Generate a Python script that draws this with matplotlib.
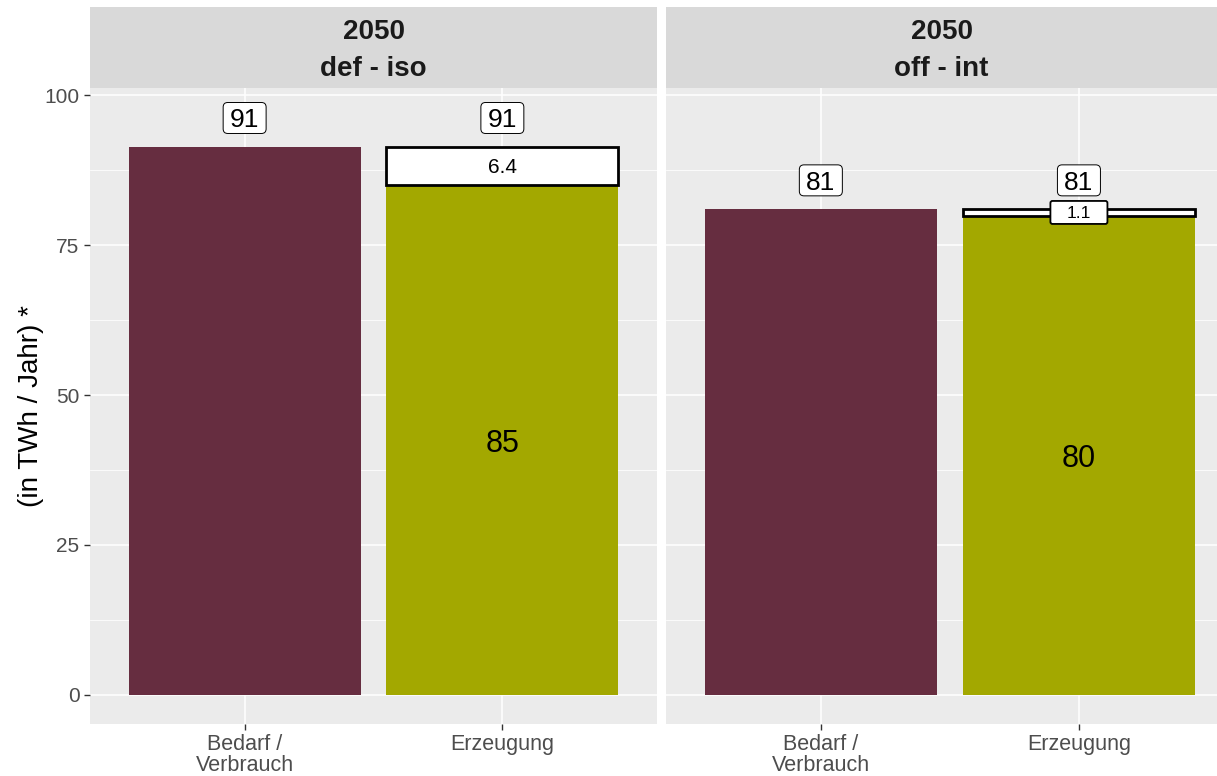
import matplotlib.pyplot as plt
from matplotlib.patches import FancyBboxPatch
from matplotlib.ticker import MultipleLocator

plt.rcParams['font.family'] = ['Liberation Sans', 'DejaVu Sans']

# data per panel
panels = ["2050\ndef - iso", "2050\noff - int"]
categories = ["Bedarf /\nVerbrauch", "Erzeugung"]
demand = [91.4, 81.0]
generation = [85.0, 79.9]
import_gap = [6.4, 1.1]
totals = [91, 81]

col_demand = "#662D40"
col_gen = "#A3A800"
bg = "#EBEBEB"
strip_bg = "#D9D9D9"

fig = plt.figure(figsize=(12.17, 7.76), dpi=100)

W, H = 1217, 776
panel_px = [(90, 567, 2.6), (666, 551, 2.535)]
y_bot, y_top = 724, 88
strip_top = 7
px_x = 258.0  # pixels per x unit
px_y = 6.0    # pixels per y unit


def label_box(ax, x, y, text, size, wpx, hpx, rnd, lw):
    # label box like geom_label
    w, h = wpx / px_x, hpx / px_y
    box = FancyBboxPatch((x - w / 2, y - h / 2), w, h,
                         boxstyle=f"round,pad=0,rounding_size={rnd}",
                         mutation_aspect=px_x / px_y,
                         fc='white', ec='black', lw=lw, zorder=4)
    ax.add_patch(box)
    ax.text(x, y, text, ha='center', va='center_baseline', fontsize=size, zorder=5)


for i, (left, width, xmax) in enumerate(panel_px):
    ax = fig.add_axes([left / W, 1 - y_bot / H, width / W, (y_bot - y_top) / H])
    ax.set_facecolor(bg)
    for s in ax.spines.values():
        s.set_visible(False)
    ax.set_xlim(0.4, xmax)
    ax.set_ylim(-4.85, 101.2)
    ax.yaxis.set_major_locator(MultipleLocator(25))
    ax.yaxis.set_minor_locator(MultipleLocator(12.5))
    ax.grid(which='major', color='white', linewidth=1.1)
    ax.grid(which='minor', axis='y', color='white', linewidth=0.55)
    ax.set_axisbelow(True)
    ax.tick_params(axis='both', colors='#333333', labelsize=15.5, length=4,
                   width=1, color='#333333')
    ax.tick_params(axis='y', labelsize=15)
    ax.tick_params(which='minor', length=0)
    ax.set_xticks([1, 2])
    ax.set_xticklabels(categories, color='#4D4D4D', linespacing=1.0)
    if i == 0:
        ax.tick_params(axis='y', labelcolor='#4D4D4D')
        ax.set_ylabel("(in TWh / Jahr) *", fontsize=20, color='black', labelpad=0)
    else:
        ax.tick_params(axis='y', left=False, labelleft=False)

    ax.bar(1, demand[i], width=0.9, color=col_demand)
    ax.bar(2, generation[i], width=0.9, color=col_gen)
    ax.bar(2, import_gap[i], bottom=generation[i], width=0.9, color='white',
           edgecolor='black', linewidth=2)

    # total labels above both bars
    for x in (1, 2):
        label_box(ax, x, demand[i] + 4.8, f"{totals[i]}", 19, 43, 31, 0.018, 0.7)
    ax.text(2, generation[i] / 2, f"{generation[i]:.0f}", ha='center',
            va='center_baseline', fontsize=22)
    if i == 0:
        ax.text(2, generation[i] + import_gap[i] / 2, f"{import_gap[i]:.1f}",
                ha='center', va='center_baseline', fontsize=15)
    else:
        label_box(ax, 2, generation[i] + import_gap[i] / 2, f"{import_gap[i]:.1f}",
                  12.5, 57, 23, 0.008, 1.3)

    # facet strip
    sax = fig.add_axes([left / W, 1 - y_top / H, width / W, (y_top - strip_top) / H])
    sax.set_facecolor(strip_bg)
    sax.set_xticks([])
    sax.set_yticks([])
    for s in sax.spines.values():
        s.set_visible(False)
    sax.text(0.5, 0.46, panels[i], ha='center', va='center', fontsize=20,
             fontweight='bold', color='#1A1A1A', linespacing=1.55,
             transform=sax.transAxes)

fig.savefig("out.png", dpi=100)
